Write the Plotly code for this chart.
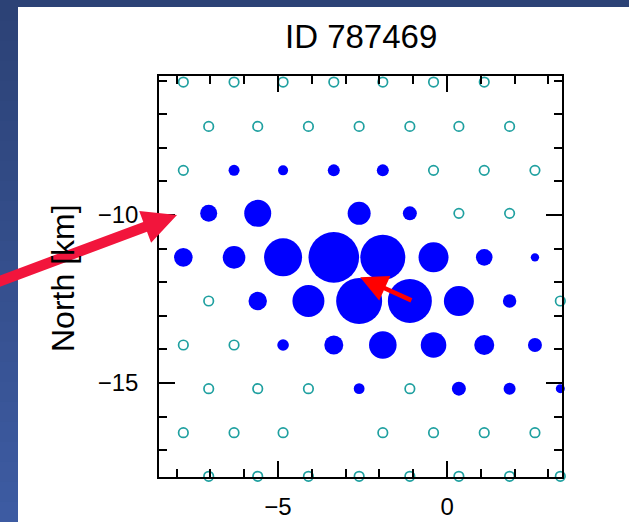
import plotly.graph_objects as go
import math

# ---------------- data ----------------
title_text = "ID 787469"
y_label = "North [km]"

# station positions (km east / km north) and recorded amplitude (0 = no signal)
east = [
    -7.8, -6.3, -4.85, -3.35, -1.9, -0.4, 1.1,                 # row -6.04
    -7.05, -5.6, -4.1, -2.6, -1.1, 0.35, 1.85,                 # row -7.36
    -7.8, -6.3, -4.85, -3.35, -1.9, -0.4, 1.1, 2.6,            # row -8.67
    -7.05, -5.6, -2.6, -1.1, 0.35, 1.85,                       # row -9.95
    -7.8, -6.3, -4.85, -3.35, -1.9, -0.4, 1.1, 2.6,            # row -11.26
    -7.05, -5.6, -4.1, -2.6, -1.1, 0.35, 1.85, 3.35,           # row -12.56
    -7.8, -6.3, -4.85, -3.35, -1.9, -0.4, 1.1, 2.6,            # row -13.87
    -7.05, -5.6, -4.1, -2.6, -1.1, 0.35, 1.85, 3.35,           # row -15.17
    -7.8, -6.3, -4.85, -1.9, -0.4, 1.1, 2.6,                   # row -16.48
    -7.05, -5.6, -4.1, -2.6, -1.1, 0.35, 1.85, 3.35,           # row -17.78
]
north = (
    [-6.04] * 7 + [-7.36] * 7 + [-8.67] * 8 + [-9.95] * 6 + [-11.26] * 8
    + [-12.56] * 8 + [-13.87] * 8 + [-15.17] * 8 + [-16.48] * 7 + [-17.78] * 8
)
amplitude = [
    0, 0, 0, 0, 0, 0, 0,
    0, 0, 0, 0, 0, 0, 0,
    0, 5.5, 5, 6, 6, 0, 0, 0,
    8.5, 13.5, 11.5, 7, 0, 0,
    9.3, 11.3, 19, 25.3, 22.5, 15, 8.3, 4.2,
    0, 9.2, 16, 23, 22, 15, 6.7, 0,
    0, 0, 5.8, 9.5, 13.8, 12.8, 10, 7,
    0, 0, 0, 5.4, 0, 7, 6, 4.5,
    0, 0, 0, 0, 0, 0, 0,
    0, 0, 0, 0, 0, 0, 0, 0,
]

# slip-direction arrow (km): from tail to head
slip_tail = (-1.01, -12.56)
slip_head = (-2.57, -11.85)

x_range = [-8.52, 3.4]
y_range = [-17.8, -5.86]
x_ticks = [-5, 0]
y_ticks = [-15, -10]

# ---------------- figure ----------------
W, H = 629, 522
ML, MR, MT, MB = 159, 67, 76, 45
PW, PH = W - ML - MR, H - MT - MB


def px(xp):
    return (xp - ML) / PW


def py(yp):
    return (H - MB - yp) / PH


fig = go.Figure()

open_e = [e for e, a in zip(east, amplitude) if a == 0]
open_n = [n for n, a in zip(north, amplitude) if a == 0]
fill_e = [e for e, a in zip(east, amplitude) if a > 0]
fill_n = [n for n, a in zip(north, amplitude) if a > 0]
fill_a = [a for a in amplitude if a > 0]

fig.add_trace(go.Scatter(
    x=open_e, y=open_n, mode="markers", cliponaxis=False, hoverinfo="skip",
    marker=dict(symbol="circle-open", size=9.5, color="#1fa0a0", opacity=1,
                line=dict(width=1.7, color="#1fa0a0")),
))
fig.add_trace(go.Scatter(
    x=fill_e, y=fill_n, mode="markers", cliponaxis=False, hoverinfo="skip",
    marker=dict(symbol="circle", size=[2 * a for a in fill_a], color="#0000ff",
                opacity=1, line=dict(width=0)),
))

shapes = []
# slide background: white panel
shapes.append(dict(type="rect", xref="paper", yref="paper", layer="below",
                   x0=px(18), x1=px(640), y0=py(530), y1=py(7),
                   fillcolor="white", line=dict(width=0)))
# left slide strip gradient
nb = 26
c0 = (44, 66, 118)
c1 = (61, 91, 162)
for i in range(nb):
    t = i / (nb - 1)
    c = tuple(int(round(c0[k] + (c1[k] - c0[k]) * t)) for k in range(3))
    y0p = i * H / nb
    y1p = (i + 1) * H / nb + 1
    shapes.append(dict(type="rect", xref="paper", yref="paper", layer="below",
                       x0=px(-2), x1=px(18), y0=py(y1p), y1=py(y0p),
                       fillcolor="rgb(%d,%d,%d)" % c, line=dict(width=0)))

# big red pointer arrow (decoration) as a polygon in pixel space
tail = (-12.0, 285.5)
tip = (177.0, 215.0)
dx, dy = tip[0] - tail[0], tip[1] - tail[1]
L = math.hypot(dx, dy)
ux, uy = dx / L, dy / L
nx, ny = -uy, ux
hw, head_len, head_hw = 5.3, 34.0, 17.0
bx, by = tip[0] - head_len * ux, tip[1] - head_len * uy
pts = [
    (tail[0] + hw * nx, tail[1] + hw * ny),
    (bx + hw * nx, by + hw * ny),
    (bx + head_hw * nx, by + head_hw * ny),
    tip,
    (bx - head_hw * nx, by - head_hw * ny),
    (bx - hw * nx, by - hw * ny),
    (tail[0] - hw * nx, tail[1] - hw * ny),
]
path = "M " + " L ".join("%.4f,%.4f" % (px(a), py(b)) for a, b in pts) + " Z"
shapes.append(dict(type="path", xref="paper", yref="paper", layer="above",
                   path=path, fillcolor="#f2153c", line=dict(width=0)))

annotations = [
    dict(text=title_text, xref="paper", yref="paper", x=px(361), y=py(36),
         xanchor="center", yanchor="middle", showarrow=False,
         font=dict(family="Liberation Sans", size=33, color="black")),
    dict(text=y_label, xref="paper", yref="paper", x=px(63), y=py(278),
         xanchor="center", yanchor="middle", showarrow=False, textangle=-90,
         font=dict(family="Liberation Sans", size=32, color="black")),
    dict(text="", x=slip_head[0], y=slip_head[1], xref="x", yref="y",
         ax=slip_tail[0], ay=slip_tail[1], axref="x", ayref="y",
         showarrow=True, arrowhead=2, arrowsize=1.2, arrowwidth=4.5,
         arrowcolor="#ff0000"),
]

axis_common = dict(
    showgrid=False, zeroline=False, showline=True, linecolor="black",
    linewidth=1.5, mirror="ticks", ticks="inside", ticklen=16, tickwidth=1.5,
    tickcolor="black", automargin=False,
    tickfont=dict(family="Liberation Sans", size=24, color="black"),
    minor=dict(dtick=1, ticks="inside", ticklen=8, tickwidth=1.5,
               tickcolor="black", showgrid=False),
)

fig.update_layout(
    width=W, height=H, margin=dict(l=ML, r=MR, t=MT, b=MB, pad=0, autoexpand=False),
    paper_bgcolor="rgb(44,66,118)", plot_bgcolor="white",
    showlegend=False, shapes=shapes, annotations=annotations,
    xaxis=dict(range=x_range, tickvals=x_ticks, ticklabelstandoff=7, **axis_common),
    yaxis=dict(range=y_range, tickvals=y_ticks, ticklabelstandoff=14, **axis_common),
)

fig.write_html("out.html")
